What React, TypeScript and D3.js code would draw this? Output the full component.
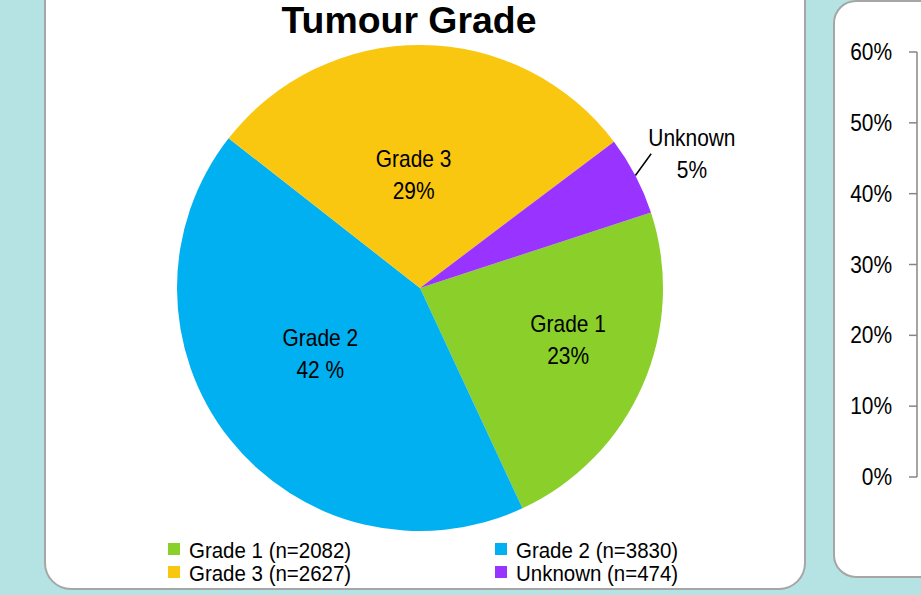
import React from "react";
import * as d3 from "d3";

const categories = ["Grade 1", "Grade 2", "Grade 3", "Unknown"];
const counts = [2082, 3830, 2627, 474];
const percentLabels = ["23%", "42 %", "29%", "5%"];
const colors = ["#8ACF2A", "#00B0F0", "#FAC710", "#9933FF"];
const legendLabels = ["Grade 1 (n=2082)", "Grade 2 (n=3830)", "Grade 3 (n=2627)", "Unknown (n=474)"];
const axisTicks = [0, 0.1, 0.2, 0.3, 0.4, 0.5, 0.6];

const W = 921;
const H = 595;
const FONT = "'Liberation Sans', Arial, sans-serif";
const SX = 0.91;
const FS = 23;

// layout: label placement relative to each slice's mid-angle (radius fraction, angle shift in degrees)
const labelRadius = [0.644, 0.49, 0.47, 1.25];
const labelShift = [-4.6, 5.3, -3.7, 1.1];

function T(props: { x: number; y: number; anchor?: string; children: React.ReactNode; size?: number }) {
  const { x, y, anchor = "start", children, size = FS } = props;
  return (
    <text
      transform={`translate(${x},${y}) scale(${SX},1)`}
      textAnchor={anchor}
      fontSize={size}
      fill="#000"
    >
      {children}
    </text>
  );
}

export default function App() {
  const cx = 420;
  const cy = 288;
  const r = 243;
  const start = (71.9 * Math.PI) / 180;
  const deg = Math.PI / 180;

  const pie = d3
    .pie<number>()
    .sort(null)
    .value((d) => d)
    .startAngle(start)
    .endAngle(start + 2 * Math.PI);
  const arcs = pie(counts);
  const arc = d3.arc<d3.PieArcDatum<number>>().innerRadius(0).outerRadius(r);

  const polar = (a: number, rad: number) => [Math.sin(a) * rad, -Math.cos(a) * rad];

  const y = d3.scaleLinear().domain([0, 0.6]).range([477, 52]);
  const axisX = 917;

  return (
    <svg
      width={W}
      height={H}
      style={{ position: "fixed", left: 0, top: 0, display: "block" }}
      fontFamily={FONT}
    >
      <rect x={0} y={0} width={W} height={H} fill="#B5E3E3" />
      <rect x={45} y={-30} width={760} height={619} rx={26} ry={26} fill="#fff" stroke="#A6A6A6" strokeWidth={2} />
      <rect x={834} y={1} width={140} height={576} rx={22} ry={22} fill="#fff" stroke="#A6A6A6" strokeWidth={2} />

      <text x={409} y={33} textAnchor="middle" fontSize={37} fontWeight="bold" textLength={255} lengthAdjust="spacingAndGlyphs">
        Tumour Grade
      </text>

      <g transform={`translate(${cx},${cy})`}>
        {arcs.map((a, i) => (
          <path key={categories[i]} d={arc(a) || ""} fill={colors[i]} />
        ))}
        {arcs.map((a, i) => {
          const mid = (a.startAngle + a.endAngle) / 2;
          const [lx, ly] = polar(mid + labelShift[i] * deg, r * labelRadius[i]);
          return (
            <g key={"l" + i}>
              {i === 3 && (() => {
                const [x1, y1] = polar(mid, r * 1.0);
                const [x2, y2] = polar(mid - 0.045, r * 1.1);
                return <line x1={x1} y1={y1} x2={x2} y2={y2} stroke="#000" strokeWidth={1.5} />;
              })()}
              <T x={lx} y={ly - 7} anchor="middle">
                {categories[i]}
              </T>
              <T x={lx} y={ly + 25} anchor="middle">
                {percentLabels[i]}
              </T>
            </g>
          );
        })}
      </g>

      {legendLabels.map((l, i) => {
        const col = i % 2;
        const row = Math.floor(i / 2);
        const x = col === 0 ? 168 : 495;
        const yy = 543 + row * 23;
        return (
          <g key={l}>
            <rect x={x} y={yy} width={12} height={12} fill={colors[i]} />
            <T x={x + 21} y={yy + 15} size={22.5}>
              {l}
            </T>
          </g>
        );
      })}

      <line x1={axisX} y1={y(0.6)} x2={axisX} y2={y(0)} stroke="#868686" strokeWidth={1.5} />
      {axisTicks.map((t) => (
        <g key={t}>
          <line x1={axisX - 8} x2={axisX} y1={y(t)} y2={y(t)} stroke="#868686" strokeWidth={1.5} />
          <T x={892} y={y(t) + 8} anchor="end">
            {d3.format(".0%")(t)}
          </T>
        </g>
      ))}
    </svg>
  );
}
